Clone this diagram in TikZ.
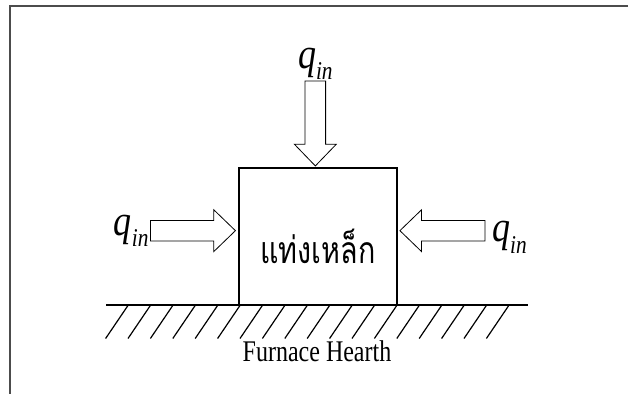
\documentclass[tikz,border=0pt]{standalone}
\usepackage{fontspec}
\usepackage{graphicx}
\setmainfont{Liberation Serif}
\newfontfamily\thaifont[Script=Thai]{Loma}
\usetikzlibrary{positioning, shapes.arrows}

\newcommand{\qin}{\scalebox{1}[1.2]{\fontsize{27}{30}\selectfont\textit{q}\raisebox{-7pt}{\fontsize{16}{18}\selectfont\textit{in}}}}

\begin{document}
\begin{tikzpicture}[
        x=0.75pt, y=-0.75pt,
        frame/.style={
            draw=black!70,
            line width=1pt
        },
        bar/.style={
            rectangle,
            draw,
            line width=1.5pt,
            minimum width=118.5pt,
            minimum height=102.75pt,
            inner sep=0pt
        },
        heat/.style={
            single arrow,
            draw,
            line width=0.6pt,
            minimum height=63.75pt,
            inner xsep=0pt,
            inner ysep=7.4pt,
            single arrow head extend=8pt,
            single arrow tip angle=88,
            single arrow head indent=0pt
        },
        flux/.style={inner sep=0pt},
        steel/.style={inner sep=0pt, font=\thaifont\fontsize{21.5}{24}\selectfont},
        ground/.style={line width=1.2pt},
        hatch/.style={line width=0.9pt},
        caption/.style={inner sep=0pt, font=\fontsize{18}{20}\selectfont}
    ]
    \useasboundingbox (0,0) rectangle (629,394);

    % Frame
    \draw[frame] (628,6) -- (10,6) -- (10,394);

    % Steel bar
    \node[bar] (bar) at (318,236) {};
    \node[steel] (steel) at ([yshift=-8pt]bar.center) {\scalebox{1}[1.3]{แท่งเหล็ก}};

    % Heat input arrows
    \node[heat, rotate=-90, anchor=tip] (tarrow) at ([xshift=-2pt]bar.north) {};
    \node[heat, anchor=tip] (larrow) at ([xshift=-1.5pt, yshift=4pt]bar.west) {};
    \node[heat, rotate=180, anchor=tip] (rarrow) at ([xshift=1pt, yshift=4pt]bar.east) {};

    % Labels
    \node[flux, above=0.5pt of tarrow.tail] (qtop) {\qin};
    \node[flux, left=1pt of larrow.tail] (qleft) {\qin};
    \node[flux, right=5pt of rarrow.tail, yshift=-5pt] (qright) {\qin};

    % Furnace hearth
    \coordinate (gl) at (106,305);
    \coordinate (gr) at (528,305);
    \draw[ground] (gl) -- (gr);
    \foreach \i in {0,...,17}
        \draw[hatch] ({128.3+22.4*\i},305) -- ++(-22.7,33.5);
    \node[caption, anchor=base] (hearth) at (317,361) {\scalebox{1}[1.25]{Furnace Hearth}};

\end{tikzpicture}
\end{document}
